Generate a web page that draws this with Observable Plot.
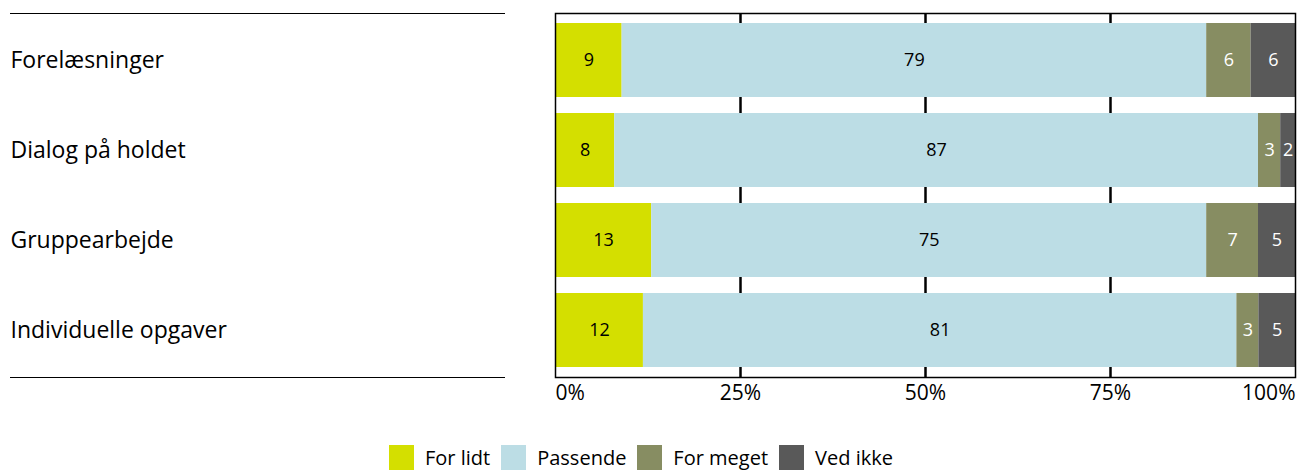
<!DOCTYPE html>
<html>
<head>
<meta charset="utf-8">
<script src="https://cdn.jsdelivr.net/npm/d3@7"></script>
<script src="https://cdn.jsdelivr.net/npm/@observablehq/plot@0.6"></script>
<style>
  html, body { margin: 0; padding: 0; background: #fff; }
  body { font-family: "Open Sans", Lato, sans-serif; }
  #wrap { position: relative; width: 1297px; }
  .hline { position: absolute; left: 10px; width: 495px; border-top: 1.5px solid #000; }
  #legend { display: flex; justify-content: flex-start; align-items: center; height: 51px; padding-left: 389px; box-sizing: border-box; padding-top: 24px; font-size: 20px; color: #000; }
  .item { display: flex; align-items: center; margin-right: 11px; }
  .sw { width: 25px; height: 25px; margin-right: 11px; }
</style>
</head>
<body>
<div id="wrap">
  <div class="hline" style="top:13px"></div>
  <div class="hline" style="top:377px"></div>
  <div id="chart"></div>
  <div id="legend"></div>
</div>
<script>
const categories = ["Forelæsninger", "Dialog på holdet", "Gruppearbejde", "Individuelle opgaver"];
const seriesNames = ["For lidt", "Passende", "For meget", "Ved ikke"];
const seriesColors = ["#d4df00", "#bcdde5", "#878d62", "#595959"];
const forLidt = [9, 8, 13, 12];
const passende = [79, 87, 75, 81];
const forMeget = [6, 3, 7, 3];
const vedIkke = [6, 2, 5, 5];
const tickValues = [0, 0.25, 0.5, 0.75, 1];
const whiteTextSeries = ["For meget", "Ved ikke"];

const seriesValues = [forLidt, passende, forMeget, vedIkke];
const data = [];
categories.forEach((cat, i) => {
  seriesNames.forEach((s, j) => {
    data.push({category: cat, series: s, value: seriesValues[j][i]});
  });
});

const stackOpts = (extra) => Plot.stackX({
  x: "value", y: "category", z: "series", offset: "normalize", order: seriesNames, ...extra
});

const font = "'Open Sans', Lato, sans-serif";
const tickOpts = {tickFormat: d3.format(".0%"), tickSize: 0, tickPadding: 8, fontSize: 21, label: null};
const chart = Plot.plot({
  width: 1297,
  height: 420,
  marginLeft: 555,
  marginRight: 2,
  marginTop: 13,
  marginBottom: 43,
  style: {fontFamily: font, fontSize: "19px", color: "#000", background: "#fff"},
  x: {domain: [0, 1], label: null},
  y: {domain: categories, paddingInner: 0.18, paddingOuter: 0.1, label: null},
  color: {domain: seriesNames, range: seriesColors},
  marks: [
    Plot.ruleX(tickValues.slice(1, -1), {stroke: "#000", strokeWidth: 2.5}),
    Plot.barX(data, stackOpts({fill: "series"})),
    Plot.text(data, stackOpts({
      text: d => whiteTextSeries.includes(d.series) ? null : String(d.value),
      fill: "#000", fontSize: 18
    })),
    Plot.text(data, stackOpts({
      text: d => whiteTextSeries.includes(d.series) ? String(d.value) : null,
      fill: "#fff", fontSize: 18
    })),
    Plot.frame({stroke: "#000", strokeWidth: 1.5}),
    Plot.axisX({ticks: tickValues.slice(1, -1), ...tickOpts}),
    Plot.axisX({ticks: tickValues.slice(0, 1), textAnchor: "start", ...tickOpts}),
    Plot.axisX({ticks: tickValues.slice(-1), textAnchor: "end", ...tickOpts}),
    Plot.axisY({tickSize: 0, tickPadding: 545, textAnchor: "start", fontSize: 23, label: null})
  ]
});
document.getElementById("chart").appendChild(chart);

const legend = document.getElementById("legend");
seriesNames.forEach((s, j) => {
  const item = document.createElement("div");
  item.className = "item";
  const sw = document.createElement("div");
  sw.className = "sw";
  sw.style.background = seriesColors[j];
  const lab = document.createElement("span");
  lab.textContent = s;
  item.appendChild(sw);
  item.appendChild(lab);
  legend.appendChild(item);
});
</script>
</body>
</html>
